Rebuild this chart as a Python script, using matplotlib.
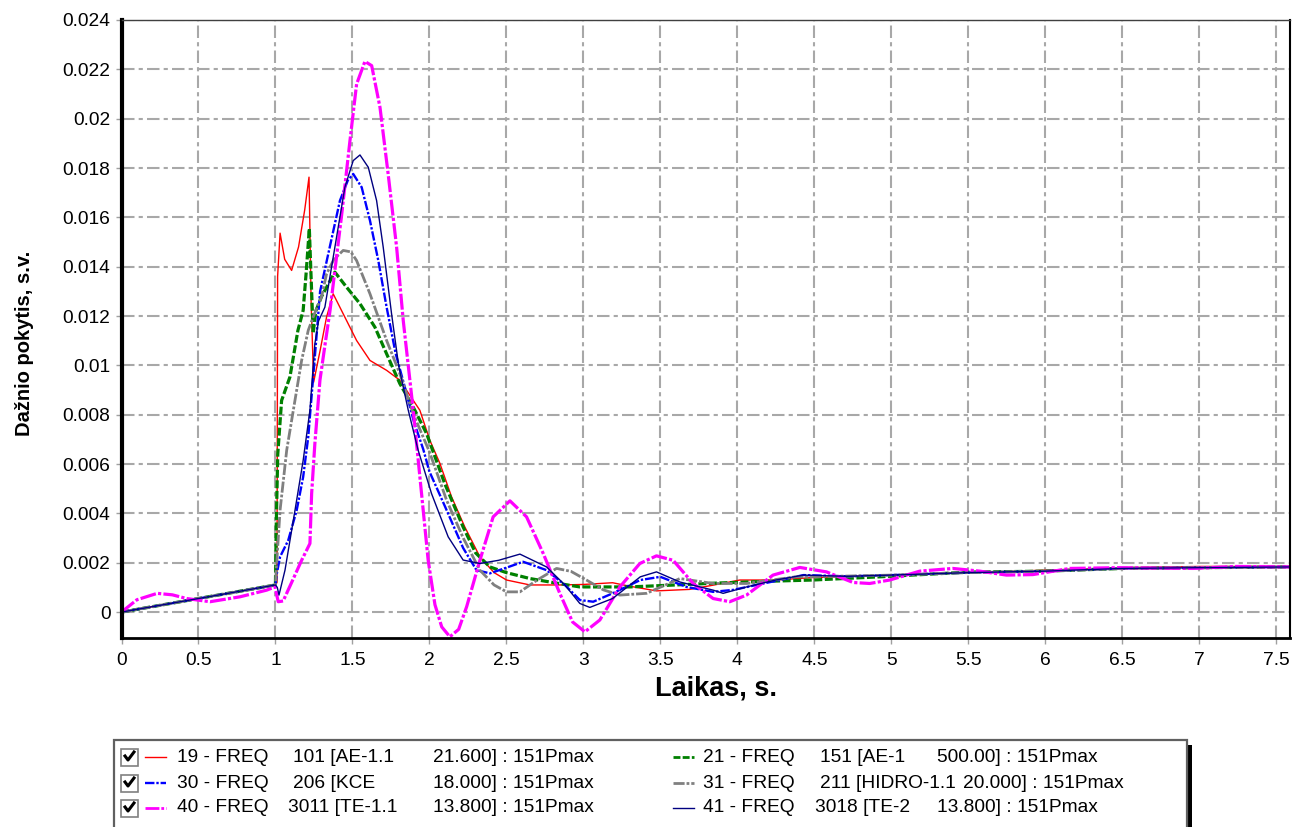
import matplotlib
matplotlib.use('Agg')
import matplotlib.pyplot as plt
from matplotlib.patches import Rectangle
from matplotlib.lines import Line2D

plt.rcParams['font.family'] = ['Liberation Sans', 'DejaVu Sans']

# ---------------- data ----------------
t_red = [0, 0.5, 1.0, 1.01, 1.014, 1.03, 1.06, 1.105, 1.15, 1.19, 1.218, 1.232, 1.248, 1.29,
         1.332, 1.375, 1.44, 1.527, 1.614, 1.722, 1.808, 1.873, 1.938, 2.003, 2.068, 2.144,
         2.23, 2.328, 2.42, 2.501, 2.653, 2.85, 3.0, 3.19, 3.3, 3.475, 3.69, 3.85, 4.016,
         4.25, 4.49, 5.0, 5.5, 6.0, 6.5, 7.0, 7.59]
v_red = [0, 0.00055, 0.0011, 0.0012, 0.0136, 0.01536, 0.0143, 0.01385, 0.0148, 0.0163,
         0.01763, 0.0125, 0.00932, 0.0106, 0.01196, 0.0129, 0.01209, 0.01101, 0.0102, 0.0098,
         0.0094, 0.00879, 0.00818, 0.00696, 0.00603, 0.00467, 0.00345, 0.00224, 0.0016,
         0.0013, 0.0011, 0.0011, 0.00112, 0.00119, 0.00105, 0.00086, 0.00092, 0.0011, 0.0013,
         0.0013, 0.0014, 0.0015, 0.0016, 0.0017, 0.0018, 0.00185, 0.00185]

t_green = [0, 0.5, 1.0, 1.005, 1.015, 1.04, 1.094, 1.146, 1.18, 1.2, 1.22, 1.232, 1.245, 1.262,
           1.3, 1.386, 1.462, 1.549, 1.646, 1.722, 1.808, 1.895, 1.982, 2.1, 2.219, 2.3, 2.393,
           2.5, 2.653, 2.8, 2.977, 3.3, 3.6, 3.84, 4.2, 4.49, 4.925, 5.5, 6.0, 6.5, 7.0, 7.59]
v_green = [0, 0.00055, 0.0011, 0.0035, 0.0064, 0.00858, 0.00953, 0.01142, 0.01223, 0.0138,
           0.01555, 0.0135, 0.0113, 0.0122, 0.0128, 0.01378, 0.01317, 0.0125, 0.01155, 0.01047,
           0.00926, 0.00831, 0.00723, 0.0052, 0.00345, 0.0024, 0.00183, 0.0016, 0.00136, 0.0012,
           0.00102, 0.00102, 0.0011, 0.00117, 0.00125, 0.0013, 0.00143, 0.00162, 0.00166,
           0.00177, 0.0018, 0.00183]

t_blue = [0, 0.5, 1.0, 1.01, 1.03, 1.083, 1.138, 1.18, 1.213, 1.245, 1.267, 1.29, 1.343, 1.419,
          1.47, 1.505, 1.56, 1.614, 1.668, 1.722, 1.78, 1.841, 1.9, 1.96, 2.0, 2.1, 2.219, 2.306,
          2.393, 2.5, 2.609, 2.761, 2.88, 2.977, 3.064, 3.19, 3.37, 3.5, 3.67, 3.843, 3.973,
          4.17, 4.43, 4.71, 5.0, 5.5, 6.0, 6.5, 7.0, 7.59]
v_blue = [0, 0.00055, 0.0011, 0.0016, 0.00224, 0.00291, 0.00413, 0.00548, 0.0071, 0.00953,
          0.0112, 0.0130, 0.01452, 0.01668, 0.0175, 0.01776, 0.01722, 0.01587, 0.01425, 0.01236,
          0.0105, 0.0091, 0.0077, 0.0066, 0.0057, 0.0043, 0.0026, 0.0017, 0.00157, 0.0018,
          0.00204, 0.0017, 0.0011, 0.00049, 0.00042, 0.00076, 0.0013, 0.00143, 0.00102, 0.00082,
          0.0009, 0.00116, 0.0015, 0.00145, 0.0015, 0.0016, 0.00166, 0.00177, 0.0018, 0.00183]

t_gray = [0, 0.5, 1.0, 1.005, 1.03, 1.073, 1.116, 1.17, 1.213, 1.245, 1.3, 1.332, 1.38, 1.44,
          1.49, 1.527, 1.614, 1.722, 1.808, 1.895, 2.0, 2.112, 2.22, 2.328, 2.42, 2.501, 2.588,
          2.7, 2.826, 2.92, 3.02, 3.13, 3.237, 3.41, 3.627, 3.843, 4.06, 4.38, 4.71, 5.0, 5.5,
          6.0, 6.5, 7.0, 7.59]
v_gray = [0, 0.00055, 0.0011, 0.0017, 0.00413, 0.00656, 0.00818, 0.0102, 0.01142, 0.01196,
          0.0128, 0.01371, 0.0143, 0.01466, 0.0146, 0.01425, 0.0129, 0.01101, 0.00966, 0.00804,
          0.0065, 0.00453, 0.0030, 0.0017, 0.0011, 0.00082, 0.00082, 0.0013, 0.00177, 0.00165,
          0.0013, 0.0009, 0.00069, 0.00076, 0.00136, 0.00116, 0.00116, 0.00143, 0.00146,
          0.0015, 0.0016, 0.00166, 0.00177, 0.0018, 0.00183]

t_mag = [0, 0.1, 0.232, 0.33, 0.423, 0.575, 0.77, 0.943, 0.997, 1.018, 1.05, 1.105, 1.17,
         1.224, 1.235, 1.256, 1.289, 1.321, 1.354, 1.43, 1.484, 1.527, 1.581, 1.625, 1.679,
         1.732, 1.787, 1.83, 1.895, 1.949, 1.992, 2.036, 2.08, 2.133, 2.19, 2.242, 2.328, 2.414,
         2.523, 2.631, 2.739, 2.847, 2.93, 3.01, 3.107, 3.237, 3.367, 3.475, 3.583, 3.713,
         3.843, 3.951, 4.06, 4.232, 4.406, 4.579, 4.752, 4.86, 4.99, 5.185, 5.4, 5.575, 5.748,
         5.92, 6.16, 6.48, 6.96, 7.24, 7.59]
v_mag = [0, 0.0005, 0.00076, 0.0007, 0.00055, 0.00042, 0.00062, 0.00089, 0.00102, 0.00042,
         0.00045, 0.0012, 0.0021, 0.00278, 0.0048, 0.00683, 0.0094, 0.0108, 0.0122, 0.0161,
         0.01911, 0.0214, 0.02232, 0.02215, 0.02046, 0.01776, 0.01479, 0.01182, 0.00818,
         0.0048, 0.0021, 0.0003, -0.0006, -0.001, -0.0007, 0.00022, 0.0021, 0.00386, 0.00451,
         0.00386, 0.00238, 0.00076, -0.0004, -0.0008, -0.00032, 0.00102, 0.00197, 0.00228,
         0.0021, 0.00116, 0.00055, 0.00042, 0.00069, 0.0015, 0.00181, 0.00163, 0.0012,
         0.00116, 0.0013, 0.00166, 0.00177, 0.00166, 0.0015, 0.00152, 0.00177, 0.0018,
         0.00177, 0.00185, 0.00183]

t_navy = [0, 0.5, 1.0, 1.012, 1.023, 1.062, 1.127, 1.18, 1.224, 1.256, 1.28, 1.321, 1.386,
          1.451, 1.505, 1.549, 1.603, 1.657, 1.7, 1.754, 1.80, 1.862, 1.927, 2.014, 2.122,
          2.219, 2.328, 2.45, 2.588, 2.761, 2.88, 2.977, 3.042, 3.19, 3.37, 3.475, 3.627,
          3.843, 3.908, 4.06, 4.25, 4.43, 4.71, 5.0, 5.5, 6.0, 6.5, 7.0, 7.59]
v_navy = [0, 0.00055, 0.0011, 0.0010, 0.00069, 0.0017, 0.00413, 0.00615, 0.00818, 0.01088,
          0.0118, 0.01236, 0.01479, 0.01722, 0.0183, 0.01853, 0.01803, 0.01668, 0.01479, 0.0121,
          0.0100, 0.0082, 0.00656, 0.0048, 0.00305, 0.00211, 0.00197, 0.0021, 0.00235, 0.00183,
          0.0011, 0.00035, 0.00019, 0.00055, 0.00143, 0.00163, 0.00122, 0.00089, 0.00076,
          0.00102, 0.0013, 0.0015, 0.00145, 0.0015, 0.0016, 0.00166, 0.00177, 0.0018, 0.00183]

x_ticks = [0, 0.5, 1, 1.5, 2, 2.5, 3, 3.5, 4, 4.5, 5, 5.5, 6, 6.5, 7, 7.5]
x_tick_labels = ['0', '0.5', '1', '1.5', '2', '2.5', '3', '3.5', '4', '4.5', '5', '5.5',
                 '6', '6.5', '7', '7.5']
y_ticks = [0, 0.002, 0.004, 0.006, 0.008, 0.01, 0.012, 0.014, 0.016, 0.018, 0.02, 0.022, 0.024]
y_tick_labels = ['0', '0.002', '0.004', '0.006', '0.008', '0.01', '0.012', '0.014', '0.016',
                 '0.018', '0.02', '0.022', '0.024']

leg_id = ['19 - FREQ', '21 - FREQ', '30 - FREQ', '31 - FREQ', '40 - FREQ', '41 - FREQ']
leg_bus = ['101 [AE-1.1', '151 [AE-1', '206 [KCE', '211 [HIDRO-1.1', '3011 [TE-1.1', '3018 [TE-2']
leg_kv = ['21.600] : 151Pmax', '500.00] : 151Pmax', '18.000] : 151Pmax',
          '20.000] : 151Pmax', '13.800] : 151Pmax', '13.800] : 151Pmax']

xlabel = 'Laikas, s.'
ylabel = 'Dažnio pokytis, s.v.'

# ---------------- styles ----------------
series = [
    (t_red, v_red, dict(color='#ff0000', lw=1.0, ls='-')),
    (t_green, v_green, dict(color='#008000', lw=2.3, ls=(0, (2.5, 0.8)))),
    (t_blue, v_blue, dict(color='#0000ff', lw=1.7, ls=(0, (4, 0.8, 1, 0.8)))),
    (t_gray, v_gray, dict(color='#808080', lw=2.0, ls=(0, (4, 0.7, 1, 0.7)))),
    (t_mag, v_mag, dict(color='#ff00ff', lw=2.3, ls=(0, (5, 0.7, 1, 0.7)))),
    (t_navy, v_navy, dict(color='#000080', lw=1.0, ls='-')),
]

W, H = 1295, 827


def fx(x):
    return x / W


def fy(y):
    return 1 - y / H


fig = plt.figure(figsize=(W / 100, H / 100), dpi=100)
ax = fig.add_axes([fx(121.5), fy(638), (1290 - 121.5) / W, (638 - 20) / H])

for i, (t, v, st) in enumerate(series):
    ax.plot(t, v, color=st['color'], lw=st['lw'], linestyle=st['ls'], zorder=3 + i,
            solid_joinstyle='round')

ax.set_xlim(0, 7.59)
ax.set_ylim(-0.00105, 0.024)
ax.set_xticks(x_ticks)
ax.set_xticklabels(x_tick_labels)
ax.set_yticks(y_ticks)
ax.set_yticklabels(y_tick_labels)
ax.grid(True, color='#a8a8a8', linestyle=(0, (6, 2, 2, 2)), linewidth=1.5, zorder=1)
ax.set_axisbelow(True)
ax.tick_params(axis='both', direction='out', length=4, width=1, color='#a0a0a0',
               labelsize=13.8, labelcolor='black')
ax.tick_params(axis='y', pad=4)
ax.tick_params(axis='x', pad=6)
ax.spines['left'].set_linewidth(3)
ax.spines['bottom'].set_linewidth(2)
ax.spines['top'].set_linewidth(1)
ax.spines['top'].set_color('#404040')
ax.spines['right'].set_linewidth(1.5)
for s in ax.spines.values():
    s.set_zorder(10)

fig.text(fx(716), fy(688), xlabel, ha='center', va='center', fontsize=19.5,
         fontweight='bold')
fig.text(fx(25), fy(343), ylabel, ha='center', va='center', fontsize=14.5,
         fontweight='bold', rotation=90)

# ---------------- legend box ----------------
fig.add_artist(Rectangle((fx(1187), fy(840)), (1191.5 - 1187) / W, (840 - 745) / H,
                         transform=fig.transFigure, facecolor='black', edgecolor='none'))
fig.add_artist(Rectangle((fx(114), fy(840)), (1187 - 114) / W, (840 - 740) / H,
                         transform=fig.transFigure, facecolor='white', edgecolor='#606060',
                         lw=1.6))

row_y = [757, 783, 808]
col_x = [
    dict(box=121, line=(145, 166), idx=177, bus=[293, 293, 288], kv=[433, 433, 433]),
    dict(box=None, line=(673, 694), idx=703, bus=[820, 820, 815], kv=[937, 963, 937]),
]
order = [[0, 2, 4], [1, 3, 5]]
for c, col in enumerate(col_x):
    for r, si in enumerate(order[c]):
        y = row_y[r]
        st = series[si][2]
        if col['box'] is not None:
            bx = col['box']
            fig.add_artist(Rectangle((fx(bx), fy(y + 8.5)), 17 / W, 17 / H,
                                     transform=fig.transFigure, facecolor='white',
                                     edgecolor='#808080', lw=1.2))
            fig.add_artist(Line2D([fx(bx + 4), fx(bx + 7), fx(bx + 13)],
                                  [fy(y - 1), fy(y + 3), fy(y - 5)],
                                  transform=fig.transFigure, color='black', lw=2.2))
        x0, x1 = col['line']
        fig.add_artist(Line2D([fx(x0), fx(x1)], [fy(y), fy(y)], transform=fig.transFigure,
                              color=st['color'], lw=min(st['lw'], 2.0),
                              linestyle=st['ls']))
        fig.text(fx(col['idx']), fy(y), leg_id[si], ha='left', va='center', fontsize=13.8)
        fig.text(fx(col['bus'][r]), fy(y), leg_bus[si], ha='left', va='center',
                 fontsize=13.8)
        fig.text(fx(col['kv'][r]), fy(y), leg_kv[si], ha='left', va='center', fontsize=13.8)

fig.savefig('out.png', dpi=100)
